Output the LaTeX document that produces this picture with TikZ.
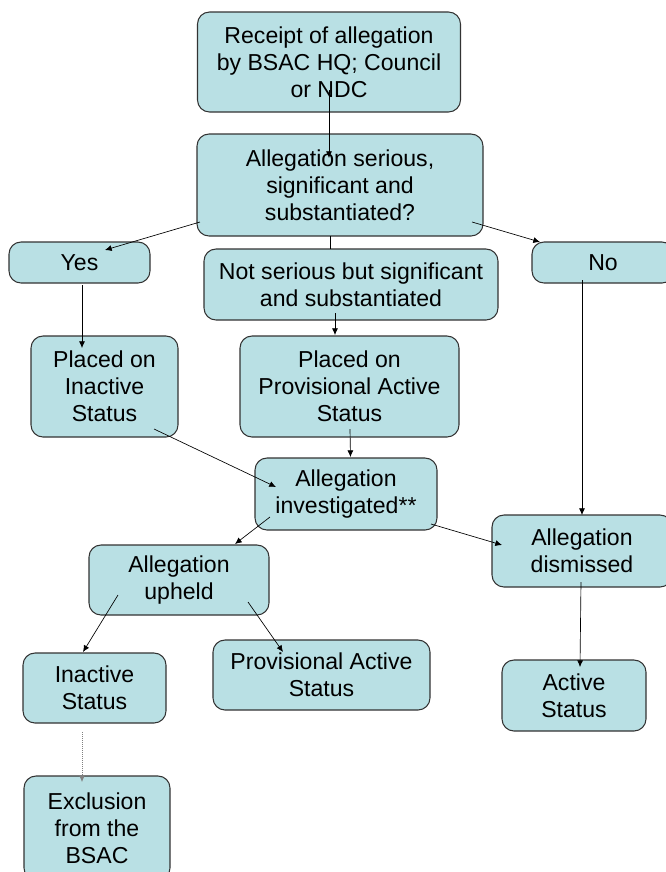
\documentclass[tikz,border=0pt]{standalone}
\usepackage{fontspec}
\setmainfont{Liberation Sans}
\usepackage{xcolor}
\usetikzlibrary{arrows.meta,calc}
\definecolor{boxfill}{RGB}{185, 224, 228}
\definecolor{boxline}{RGB}{51, 51, 51}

\begin{document}
\begin{tikzpicture}[x=0.75pt, y=-0.75pt,
            every node/.style={rectangle, rounded corners=9pt, draw=boxline, line width=0.8pt, fill=boxfill, align=center, inner sep=0pt,
              font=\fontsize{17.3}{20.3}\selectfont},
            arrow/.style={-{Latex[length=5pt,width=4.5pt]}, line width=0.5pt},
            link/.style={line width=0.5pt}]

            \useasboundingbox (0,0) rectangle (665,872);

            % Nodo principal
            \node[minimum width=197.25pt, minimum height=75pt] (receipt) at (329,62) {Receipt of allegation\\by BSAC HQ; Council\\or NDC};
            \node[minimum width=214.5pt, minimum height=76.5pt] (serious) at (340,185) {Allegation serious,\\significant and\\substantiated?};

            % Nodos de decision
            \node[minimum width=105.75pt, minimum height=30.75pt] (yes) at (79.5,262.5) {Yes};
            \node[minimum width=220.5pt, minimum height=53.25pt] (notserious) at (351,284.5) {Not serious but significant\\and substantiated};
            \node[minimum width=106.5pt, minimum height=30.75pt] (no) at (603,262.5) {No};

            % Nodos de estado
            \node[minimum width=110.25pt, minimum height=75.75pt] (placedinactive) at (104.5,386.5) {Placed on\\Inactive\\Status};
            \node[minimum width=164.25pt, minimum height=75.75pt] (placedprov) at (349.5,386.5) {Placed on\\Provisional Active\\Status};
            \node[minimum width=136.5pt, minimum height=54pt] (investigated) at (346,494) {Allegation\\investigated**};
            \node[minimum width=135pt, minimum height=54pt] (dismissed) at (582,551) {Allegation\\dismissed};
            \node[minimum width=135pt, minimum height=52.5pt] (upheld) at (179,580) {Allegation\\upheld};

            % Nodos finales
            \node[minimum width=107.25pt, minimum height=52.5pt] (inactive) at (94.5,688) {Inactive\\Status};
            \node[minimum width=162.75pt, minimum height=52.5pt] (provactive) at (321.5,675) {Provisional Active\\Status};
            \node[minimum width=108pt, minimum height=53.25pt] (active) at (574,695.5) {Active\\Status};
            \node[minimum width=109.5pt, minimum height=78pt] (exclusion) at (97,828) {Exclusion\\from the\\BSAC};

            % Flechas
            \draw[arrow] ($(receipt)+(0,28)$) -- ($(serious)+(-11,-27)$);
            \draw[arrow] ($(serious)+(-140,37)$) -- ($(yes)+(25.5,-12.5)$);
            \draw[arrow] ($(serious)+(132,37)$) -- ($(no)+(-63,-20.5)$);
            \draw[link] ($(serious)+(-10,51)$) -- ($(notserious)+(-21,-35.5)$);
            \draw[arrow] ($(yes)+(2.5,22.5)$) -- ($(placedinactive)+(-22.5,-38.5)$);
            \draw[arrow] ($(notserious)+(-16,28.5)$) -- ($(placedprov)+(-14.5,-51.5)$);
            \draw[arrow] ($(no)+(-21,17.5)$) -- ($(dismissed)+(0,-36)$);
            \draw[arrow] ($(placedinactive)+(49.5,42.5)$) -- ($(investigated)+(-70,-7)$);
            \draw[arrow] ($(placedprov)+(0.5,42.5)$) -- ($(investigated)+(4.5,-37)$);
            \draw[arrow] ($(investigated)+(-76,23)$) -- ($(upheld)+(56,-36)$);
            \draw[arrow] ($(investigated)+(85,30)$) -- ($(dismissed)+(-80,-6)$);
            \draw[arrow] ($(upheld)+(-61,15)$) -- ($(inactive)+(-11.5,-36)$);
            \draw[arrow] ($(upheld)+(69,22)$) -- ($(provactive)+(-38.5,-23)$);
            \draw[arrow] ($(dismissed)+(-1,31)$) -- ($(active)+(6,-28.5)$);
            \draw[arrow, densely dotted, draw=gray] ($(inactive)+(-12.5,44)$) -- ($(exclusion)+(-15,-46)$);

        \end{tikzpicture}
\end{document}
